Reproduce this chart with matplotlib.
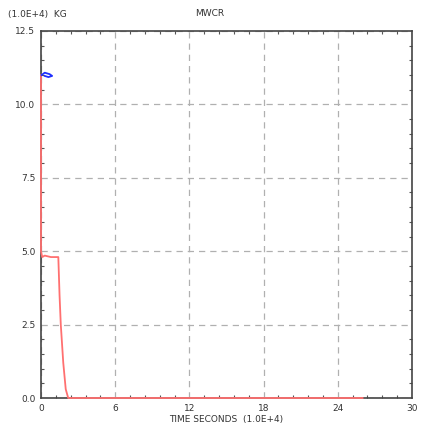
import numpy as np
import matplotlib.pyplot as plt
from matplotlib.ticker import MultipleLocator

# MWCR mass history, units of 1.0E+4 KG vs time in 1.0E+4 s
t_red = [0.0, 0.0, 0.1, 0.3, 0.8, 1.4, 1.5, 1.6, 1.8, 2.0, 2.2, 26.0]
m_red = [11.0, 5.0, 4.8, 4.85, 4.8, 4.8, 3.5, 2.5, 1.2, 0.3, 0.0, 0.0]

t_blue = [0.05, 0.3, 0.7, 0.9, 0.6, 0.3]
m_blue = [11.0, 11.08, 11.03, 10.97, 10.93, 10.97]

xticks = [0, 6, 12, 18, 24, 30]
yticks = [0.0, 2.5, 5.0, 7.5, 10.0, 12.5]

fig = plt.figure(figsize=(4.23, 4.36), dpi=100)
ax = fig.add_axes([41/423, 38/436, 371/423, 367/436])

ax.plot(t_red, m_red, color="#ff7070", linewidth=1.3, zorder=5, clip_on=False)
ax.plot(t_blue, m_blue, color="#2030ff", linewidth=1.3, zorder=6, clip_on=False)

ax.set_xlim(0, 30)
ax.set_ylim(0, 12.5)
ax.set_xticks(xticks)
ax.set_yticks(yticks)
ax.set_yticklabels(["%.1f" % v for v in yticks])
ax.xaxis.set_minor_locator(MultipleLocator(1.2))
ax.yaxis.set_minor_locator(MultipleLocator(0.5))
ax.tick_params(which="both", direction="in", top=True, right=True,
               labelsize=6.5, colors="#555555", labelcolor="#333333")
ax.tick_params(which="major", length=0, pad=4)
ax.tick_params(which="minor", length=2.5, width=0.8)
ax.grid(True, which="major", linestyle=(0, (5, 4)), color="#b0b0b0", linewidth=0.9)
for s in ax.spines.values():
    s.set_linewidth(1.2)
    s.set_color("#444444")

ax.set_xlabel("TIME SECONDS  (1.0E+4)", fontsize=6.5, labelpad=2, color="#333333")
fig.text(210/423, 1 - 14/436, "MWCR", fontsize=6.5, ha="center", va="center", color="#333333")
fig.text(8/423, 1 - 14/436, "(1.0E+4)  KG", fontsize=6.5, ha="left", va="center", color="#333333")

fig.savefig("out.png", dpi=100)
